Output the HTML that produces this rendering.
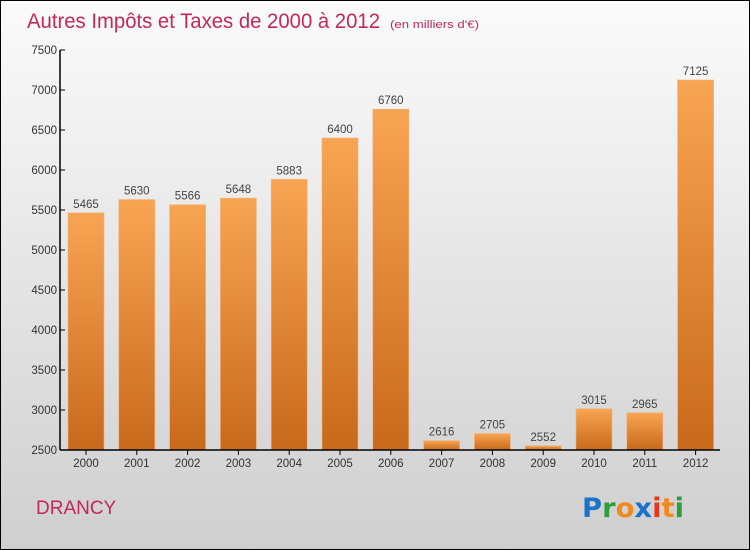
<!DOCTYPE html>
<html><head><meta charset="utf-8"><style>
body{margin:0;}
#wrap{width:750px;height:550px;position:relative;overflow:hidden;font-family:"DejaVu Sans","Liberation Sans",sans-serif;}
</style></head><body>
<div id="wrap">
<svg id="chart" width="750" height="550" xmlns="http://www.w3.org/2000/svg">
<defs>
<linearGradient id="bg" x1="0" y1="0" x2="0" y2="1"><stop offset="0" stop-color="#fbfbfb"/><stop offset="1" stop-color="#cfcfcf"/></linearGradient>
<linearGradient id="bar" x1="0" y1="0" x2="0" y2="1"><stop offset="0" stop-color="#f8a553"/><stop offset="1" stop-color="#c8691b"/></linearGradient>
</defs>
<rect x="0.5" y="0.5" width="749" height="549" fill="url(#bg)" stroke="#000"/>
<text x="27" y="28" font-size="21" fill="#c4285a" font-family="Liberation Sans, sans-serif" textLength="353" lengthAdjust="spacingAndGlyphs">Autres Impôts et Taxes de 2000 à 2012</text>
<text x="390" y="28" font-size="11" fill="#c4285a" font-family="Liberation Sans, sans-serif" textLength="89" lengthAdjust="spacingAndGlyphs">(en milliers d'€)</text>
<text x="36" y="514" font-size="19" fill="#c4285a" font-family="Liberation Sans, sans-serif">DRANCY</text>
<g id="bars"></g>
<g id="axes"></g>
<text x="582" y="517" font-size="27" font-weight="bold" font-family="DejaVu Sans, sans-serif" textLength="102" lengthAdjust="spacingAndGlyphs"><tspan fill="#1a73c9">P</tspan><tspan fill="#2e9e3a">r</tspan><tspan fill="#f08a1c">o</tspan><tspan fill="#1a73c9">x</tspan><tspan fill="#e53a1a">i</tspan><tspan fill="#f08a1c">t</tspan><tspan fill="#2e9e3a">i</tspan></text>
</svg>
</div>
<script>
const categories=["2000","2001","2002","2003","2004","2005","2006","2007","2008","2009","2010","2011","2012"];
const values=[5465,5630,5566,5648,5883,6400,6760,2616,2705,2552,3015,2965,7125];
const yTicks=[2500,3000,3500,4000,4500,5000,5500,6000,6500,7000,7500];
const NS="http://www.w3.org/2000/svg";
const x0=60,step=50.8,bw=36,yMin=2500,yMax=7500,yTop=50,yBot=450;
function yScale(v){return yBot-(v-yMin)/(yMax-yMin)*(yBot-yTop);}
function xCenter(i){return x0+26+i*step;}
function mk(tag,attrs,parent){const e=document.createElementNS(NS,tag);for(const k in attrs)e.setAttribute(k,attrs[k]);parent.appendChild(e);return e;}
const bars=document.getElementById('bars'),axes=document.getElementById('axes');
values.forEach((v,i)=>{
  const cx=xCenter(i),y=yScale(v);
  const r=mk('rect',{x:cx-bw/2,y:y,width:bw,height:yBot-y,fill:'url(#bar)',stroke:'#f2b27a','stroke-width':0.6},bars);
  
  
  const t=mk('text',{x:cx,y:y-5,'text-anchor':'middle','font-size':11.5,fill:'#444','font-family':'Liberation Sans, sans-serif'},bars);
  t.textContent=v;
  
  
  const tk=mk('line',{x1:cx,x2:cx,y1:yBot,y2:yBot+5,stroke:'#000'},axes);
  
  
  const xl=mk('text',{x:cx,y:yBot+17,'text-anchor':'middle','font-size':11.5,fill:'#333','font-family':'Liberation Sans, sans-serif'},axes);
  xl.textContent=categories[i];
  
  
});
yTicks.forEach(v=>{
  const y=yScale(v);
  const tk=mk('line',{x1:x0,x2:x0+5,y1:y,y2:y,stroke:'#000'},axes);
  
  
  const t=mk('text',{x:x0-3,y:y+4,'text-anchor':'end','font-size':11.5,fill:'#333','font-family':'Liberation Sans, sans-serif'},axes);
  t.textContent=v;
  
  
});
const ya=mk('line',{x1:x0,x2:x0,y1:yTop,y2:yBot,stroke:'#000','stroke-width':1.5},axes);


const xa=mk('line',{x1:x0,x2:720,y1:yBot,y2:yBot,stroke:'#000','stroke-width':1.5},axes);


</script>
</body></html>
